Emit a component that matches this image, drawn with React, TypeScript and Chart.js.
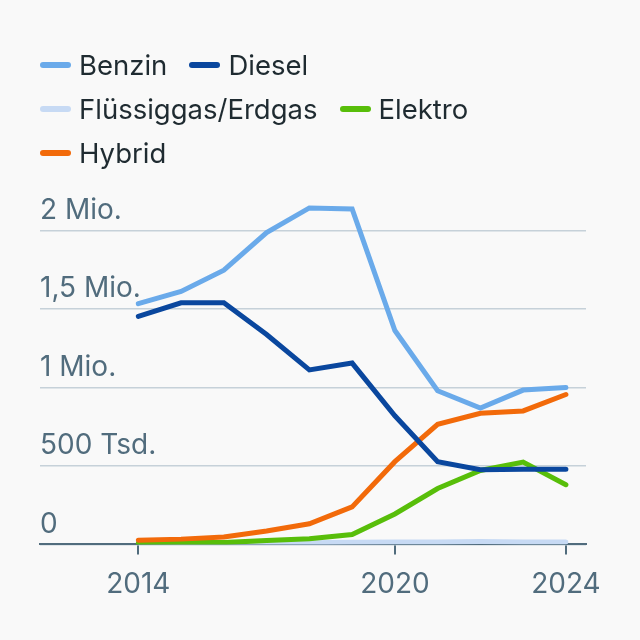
import React, { useEffect, useRef } from "react";
import { Chart, registerables } from "chart.js";

Chart.register(...registerables);

const years = [2014, 2015, 2016, 2017, 2018, 2019, 2020, 2021, 2022, 2023, 2024];
const benzin = [1533000, 1611000, 1747000, 1986000, 2143000, 2137000, 1362000, 979000, 869000, 983000, 1000000];
const diesel = [1452000, 1539000, 1539000, 1337000, 1111000, 1155000, 819000, 527000, 476000, 479000, 479000];
const gas = [15000, 12000, 10000, 11000, 11000, 14000, 16000, 16000, 18000, 16000, 15000];
const elektro = [8500, 12400, 11400, 25000, 36000, 63000, 194000, 356000, 471000, 524000, 380000];
const hybrid = [27000, 33600, 47000, 85000, 131000, 239000, 527000, 765000, 835000, 850000, 955000];

const seriesNames = ["Benzin", "Diesel", "Flüssiggas/Erdgas", "Elektro", "Hybrid"];
const seriesColors = ["#6aaaea", "#0a479e", "#c7daf4", "#58be0a", "#f26a0a"];
const seriesOrder = [0, 1, 4, 3, 2];

const yTickValues = [0, 500000, 1000000, 1500000, 2000000];
const yTickLabels = ["0", "500 Tsd.", "1 Mio.", "1,5 Mio.", "2 Mio."];
const xTickValues = [2014, 2020, 2024];

const FONT = "Inter, 'Noto Sans', sans-serif";
const TICK_COLOR = "#516c7d";
const BG = "#f9f9f9";

export default function App() {
  const canvasRef = useRef<HTMLCanvasElement | null>(null);

  useEffect(() => {
    document.body.style.background = BG;
    if (!canvasRef.current) return;
    const allSeries = [benzin, diesel, gas, elektro, hybrid];
    const chart = new Chart(canvasRef.current, {
      type: "line",
      data: {
        datasets: allSeries.map((vals, i) => ({
          label: seriesNames[i],
          data: years.map((yr, j) => ({ x: yr, y: vals[j] })),
          borderColor: seriesColors[i],
          backgroundColor: seriesColors[i],
          borderWidth: 5,
          pointRadius: 0,
          pointHoverRadius: 0,
          borderCapStyle: "round" as const,
          borderJoinStyle: "miter" as const,
          tension: 0,
          fill: false,
          order: seriesOrder[i],
        })),
      },
      options: {
        animation: false,
        responsive: true,
        maintainAspectRatio: false,
        layout: { padding: { left: 32, right: 46, top: 191, bottom: 18 } },
        plugins: {
          legend: { display: false },
          tooltip: { enabled: false },
        },
        scales: {
          x: {
            type: "linear",
            min: 2011.7,
            max: 2024.47,
            afterBuildTicks: (axis: any) => {
              axis.ticks = xTickValues.map((v) => ({ value: v }));
            },
            grid: {
              display: true,
              drawOnChartArea: false,
              drawTicks: true,
              tickLength: 10,
              color: TICK_COLOR,
              lineWidth: 2,
            },
            border: { display: true, color: TICK_COLOR, width: 2 },
            ticks: {
              color: TICK_COLOR,
              font: { family: FONT, size: 28 },
              padding: 13,
              maxRotation: 0,
              autoSkip: false,
              callback: (v: any) => String(v),
            },
          },
          y: {
            type: "linear",
            min: 0,
            max: 2200000,
            afterBuildTicks: (axis: any) => {
              axis.ticks = yTickValues.map((v) => ({ value: v }));
            },
            grid: {
              display: true,
              drawTicks: false,
              color: "#c6d1d9",
              lineWidth: 1.5,
            },
            border: { display: false },
            ticks: {
              mirror: true,
              padding: 0,
              labelOffset: -20,
              color: TICK_COLOR,
              font: { family: FONT, size: 28 },
              callback: (v: any) => {
                const idx = yTickValues.indexOf(Number(v));
                return idx >= 0 ? yTickLabels[idx] : "";
              },
            },
          },
        },
      },
    });
    return () => chart.destroy();
  }, []);

  return (
    <div style={{ position: "relative", width: 624, height: 624, background: BG, fontFamily: FONT }}>
      <canvas ref={canvasRef} />
      <div
        style={{
          position: "absolute",
          left: 32,
          top: 35,
          width: 500,
          display: "flex",
          flexWrap: "wrap",
          fontSize: 27.5,
          lineHeight: "44px",
          color: "#1f2b31",
        }}
      >
        {seriesNames.map((name, i) => (
          <div key={name} style={{ display: "flex", alignItems: "center", marginRight: 22 }}>
            <span
              style={{
                display: "inline-block",
                width: 31,
                height: 6,
                borderRadius: 3,
                background: seriesColors[i],
                marginRight: 8,
              }}
            />
            <span>{name}</span>
          </div>
        ))}
      </div>
    </div>
  );
}
